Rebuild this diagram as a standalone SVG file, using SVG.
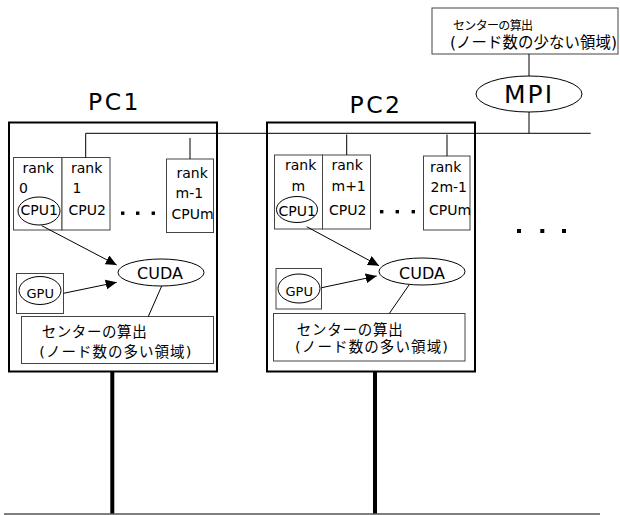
<svg xmlns="http://www.w3.org/2000/svg" width="620" height="515" viewBox="0 0 620 515">
  <style>
    text { font-family: 'DejaVu Sans', 'Noto Sans CJK JP', sans-serif; fill: #000; }
    .pc { fill: none; stroke: #000; stroke-width: 2; }
    .box { fill: #fff; stroke: #444; stroke-width: 1; }
    .oval { fill: #fff; stroke: #000; stroke-width: 1; }
    .pclabel { font-size: 23.5px; letter-spacing: 2.5px; }
    .rank { font-size: 14px; }
    .cuda { font-size: 16px; }
    .gpu { font-size: 13px; }
    .jp { font-size: 14.5px; }
    .wire { fill: none; stroke: #000; stroke-width: 1; }
    .link { fill: none; stroke: #000; stroke-width: 1; marker-end: url(#arrow); }
    .trunk { fill: none; stroke: #000; stroke-width: 4; }
    .bus { fill: none; stroke: #555; stroke-width: 1.5; }
    .dot { fill: #000; }
  </style>
  <defs>
    <marker id="arrow" markerUnits="userSpaceOnUse" markerWidth="12" markerHeight="10" refX="11" refY="5" orient="auto">
      <path d="M0,0 L11,5 L0,10 Z" fill="#000"/>
    </marker>
  </defs>

  <rect width="620" height="515" fill="#fff"/>

  <!-- top: MPI process and the small-area centre computation -->
  <g id="mpi-center">
    <rect class="box" x="432" y="8" width="186" height="46"/>
    <text x="453" y="30" font-size="12" textLength="80">センターの算出</text>
    <text x="450" y="48" font-size="15.4" textLength="167">(ノード数の少ない領域)</text>
  </g>
  <g id="mpi">
    <ellipse class="oval" cx="529" cy="94" rx="53" ry="18"/>
    <text x="504" y="103" font-size="25" letter-spacing="2">MPI</text>
  </g>

  <!-- PC1 -->
  <g id="pc1">
    <rect class="pc" x="9" y="122.5" width="208" height="249"/>
    <text class="pclabel" x="88" y="110">PC1</text>
  </g>
  <g id="pc1-rank0">
    <rect class="box" x="13.5" y="157.5" width="48.5" height="72.5"/>
    <text class="rank" x="22.5" y="173">rank</text>
    <text class="rank" x="19" y="193">0</text>
    <ellipse class="oval" cx="39" cy="211" rx="21" ry="14"/>
    <text class="rank" x="20.5" y="215">CPU1</text>
  </g>
  <g id="pc1-rank1">
    <rect class="box" x="62" y="157.5" width="48" height="72.5"/>
    <text class="rank" x="71" y="173">rank</text>
    <text class="rank" x="72.5" y="193">1</text>
    <text class="rank" x="68.5" y="215">CPU2</text>
  </g>
  <g id="pc1-dots">
    <rect class="dot" x="121" y="211.5" width="3.4" height="3.4"/>
    <rect class="dot" x="136" y="211.5" width="3.4" height="3.4"/>
    <rect class="dot" x="151.6" y="211.5" width="3.4" height="3.4"/>
  </g>
  <g id="pc1-rankm1">
    <rect class="box" x="166.5" y="159" width="47" height="73.5"/>
    <text class="rank" x="176.5" y="178">rank</text>
    <text class="rank" x="175.5" y="197.5">m-1</text>
    <text class="rank" x="171.5" y="218.5">CPUm</text>
  </g>
  <g id="pc1-gpu">
    <rect class="box" x="16.5" y="273.5" width="47" height="40"/>
    <ellipse class="oval" cx="40" cy="290.5" rx="21" ry="14"/>
    <text class="gpu" x="26.5" y="297.5">GPU</text>
  </g>
  <g id="pc1-cuda">
    <ellipse class="oval" cx="161" cy="272.5" rx="43" ry="13.5"/>
    <text class="cuda" x="137" y="278.5">CUDA</text>
  </g>
  <g id="pc1-center">
    <rect class="box" x="21.5" y="316.5" width="192" height="47"/>
    <text class="jp" x="41.7" y="337" textLength="105">センターの算出</text>
    <text class="jp" x="39.3" y="356.5" textLength="152">(ノード数の多い領域)</text>
  </g>

  <!-- PC2 -->
  <g id="pc2">
    <rect class="pc" x="267" y="122.5" width="208" height="249"/>
    <text class="pclabel" x="349.5" y="113">PC2</text>
  </g>
  <g id="pc2-rankm">
    <rect class="box" x="274.5" y="155" width="48" height="74"/>
    <text class="rank" x="285" y="170">rank</text>
    <text class="rank" x="291.5" y="190.5">m</text>
    <ellipse class="oval" cx="297" cy="209.5" rx="20.5" ry="13"/>
    <text class="rank" x="278.5" y="216">CPU1</text>
  </g>
  <g id="pc2-rankm1">
    <rect class="box" x="322.5" y="155" width="48" height="74"/>
    <text class="rank" x="331.5" y="170">rank</text>
    <text class="rank" x="331.5" y="190.5">m+1</text>
    <text class="rank" x="329" y="215">CPU2</text>
  </g>
  <g id="pc2-dots">
    <rect class="dot" x="380" y="210" width="3.4" height="3.4"/>
    <rect class="dot" x="395.6" y="210" width="3.4" height="3.4"/>
    <rect class="dot" x="411.6" y="210" width="3.4" height="3.4"/>
  </g>
  <g id="pc2-rank2m1">
    <rect class="box" x="423.5" y="156" width="46.5" height="74"/>
    <text class="rank" x="430" y="171.5">rank</text>
    <text class="rank" x="430.5" y="191.5">2m-1</text>
    <text class="rank" x="429" y="215">CPUm</text>
  </g>
  <g id="pc2-gpu">
    <rect class="box" x="276" y="268.5" width="45.5" height="40.5"/>
    <ellipse class="oval" cx="299" cy="288.5" rx="21" ry="14.5"/>
    <text class="gpu" x="285.5" y="295.5">GPU</text>
  </g>
  <g id="pc2-cuda">
    <ellipse class="oval" cx="422" cy="271.5" rx="43" ry="13.5"/>
    <text class="cuda" x="399" y="279">CUDA</text>
  </g>
  <g id="pc2-center">
    <rect class="box" x="273.5" y="313.5" width="191.5" height="47.5"/>
    <text class="jp" x="296.7" y="334.5" textLength="106">センターの算出</text>
    <text class="jp" x="295" y="352" textLength="153">(ノード数の多い領域)</text>
  </g>

  <!-- further PCs -->
  <g id="more-pcs">
    <rect class="dot" x="517" y="229" width="4" height="4"/>
    <rect class="dot" x="540.3" y="229" width="4" height="4"/>
    <rect class="dot" x="562" y="229" width="4" height="4"/>
  </g>

  <!-- connectors -->
  <g id="connectors">
    <!-- MPI network -->
    <path class="wire" d="M85.7,133.3 H590.7"/>
    <path class="wire" d="M85.7,133.3 V157.5"/>
    <path class="wire" d="M190,138 V159"/>
    <path class="wire" d="M346.7,134.5 V155"/>
    <path class="wire" d="M447,134.5 V156"/>
    <path class="wire" d="M529,112 V133.3"/>
    <path class="wire" d="M529,54 V76"/>
    <!-- PC1 device links -->
    <path class="link" d="M41.7,225.7 L116.7,265"/>
    <path class="link" d="M63.5,293.3 L116.7,282.3"/>
    <path class="wire" d="M161.7,286 L148.3,316.5"/>
    <!-- PC2 device links -->
    <path class="link" d="M306.7,226.7 L379,265.7"/>
    <path class="link" d="M321.7,287.7 L376.7,276"/>
    <path class="wire" d="M409,285 L389.3,313.5"/>
    <!-- physical network -->
    <path class="trunk" d="M112.3,372 V514"/>
    <path class="trunk" d="M375,372 V514"/>
    <path class="bus" d="M4,514 H600"/>
  </g>
</svg>
